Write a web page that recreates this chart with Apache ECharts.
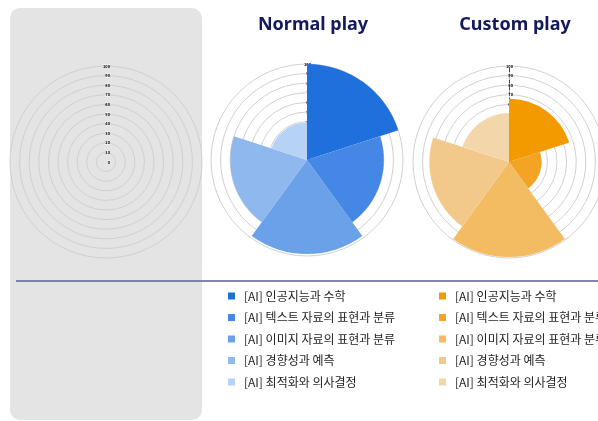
<!DOCTYPE html>
<html>
<head>
<meta charset="utf-8">
<script src="https://cdn.jsdelivr.net/npm/echarts@6/dist/echarts.min.js"></script>
<style>
html, body { margin: 0; padding: 0; background: #fff; }
#chart { width: 598px; height: 421px; }
</style>
</head>
<body>
<div id="chart"></div>
<script>
// 분류 (categories)
var categories = ['[AI] 인공지능과 수학', '[AI] 텍스트 자료의 표현과 분류', '[AI] 이미지 자료의 표현과 분류', '[AI] 경향성과 예측', '[AI] 최적화와 의사결정'];
var normalValues = [100, 80, 98, 80, 39];
var customValues = [66, 34, 99, 83, 51];
var blueColors = ['#1f6fdc', '#4487e4', '#6aa1e9', '#8fb8ee', '#b6d2f5'];
var orangeColors = ['#f39a00', '#f3a424', '#f4bc62', '#f3c98b', '#f3d6aa'];

var chart = echarts.init(document.getElementById('chart'));

var centers = [[106, 162], [307, 160], [509, 162]];
var polars = [], angleAxes = [], radiusAxes = [];
for (var i = 0; i < 3; i++) {
	polars.push({ center: centers[i], radius: 96 });
	angleAxes.push({
		polarIndex: i,
		type: 'category',
		data: categories,
		startAngle: 90,
		clockwise: true,
		axisLine: { show: false },
		axisTick: { show: false },
		axisLabel: { show: false },
		splitLine: { show: false }
	});
	radiusAxes.push({
		polarIndex: i,
		min: 0,
		max: 100,
		interval: 10,
		axisLine: { show: i > 0, lineStyle: { color: '#444', type: 'dashed', width: 1 } },
		axisTick: { show: false },
		axisLabel: { fontSize: 4, color: '#000', fontWeight: 'bold', margin: -4, backgroundColor: 'rgba(255,255,255,0.6)' },
		splitLine: { show: true, lineStyle: { color: '#d0d0d0', width: 1 } },
		z: 1
	});
}

// 같은 이름의 범례가 섞이지 않도록 오른쪽 차트 이름에 표시 문자를 붙임
var series = [];
categories.forEach(function(name, k) {
	var d1 = categories.map(function(c, j) { return j === k ? normalValues[k] : 0; });
	var d2 = categories.map(function(c, j) { return j === k ? customValues[k] : 0; });
	series.push({
		name: name, type: 'bar', coordinateSystem: 'polar', polarIndex: 1,
		stack: 'normal', barCategoryGap: '0%', data: d1,
		itemStyle: { color: blueColors[k] }, z: 3
	});
	series.push({
		name: name + '\u200b', type: 'bar', coordinateSystem: 'polar', polarIndex: 2,
		stack: 'custom', barCategoryGap: '0%', data: d2,
		itemStyle: { color: orangeColors[k] }, z: 3
	});
});

var legendText = { fontSize: 12, color: '#1e1e1e', fontFamily: 'Noto Sans CJK KR', padding: [0, 0, 0, 4] };

var option = {
	animation: false,
	textStyle: { fontFamily: 'Noto Sans CJK KR' },
	graphic: [
		{ type: 'rect', z: -10, shape: { x: 10, y: 8, width: 192, height: 412, r: 10 }, style: { fill: '#e4e4e4' } },
		{ type: 'line', z: 10, shape: { x1: 16, y1: 281, x2: 598, y2: 281 }, style: { stroke: '#56658f', lineWidth: 1.5 } }
	],
	title: [
		{ text: 'Normal play', left: 308, top: 11, textAlign: 'center',
		  textStyle: { fontSize: 18, fontWeight: 'bold', color: '#14195c', fontFamily: 'Noto Sans' } },
		{ text: 'Custom play', left: 510, top: 11, textAlign: 'center',
		  textStyle: { fontSize: 18, fontWeight: 'bold', color: '#14195c', fontFamily: 'Noto Sans' } }
	],
	legend: [
		{ data: categories, left: 223, top: 285, orient: 'vertical', itemWidth: 7, itemHeight: 7, itemGap: 9.5,
		  icon: 'rect', textStyle: legendText, selectedMode: false },
		{ data: categories.map(function(c) { return c + '\u200b'; }), left: 434, top: 285, orient: 'vertical',
		  itemWidth: 7, itemHeight: 7, itemGap: 9.5, icon: 'rect', textStyle: legendText, selectedMode: false,
		  formatter: function(n) { return n.replace('\u200b', ''); } }
	],
	polar: polars,
	angleAxis: angleAxes,
	radiusAxis: radiusAxes,
	series: series
};
chart.setOption(option);
</script>
</body>
</html>
